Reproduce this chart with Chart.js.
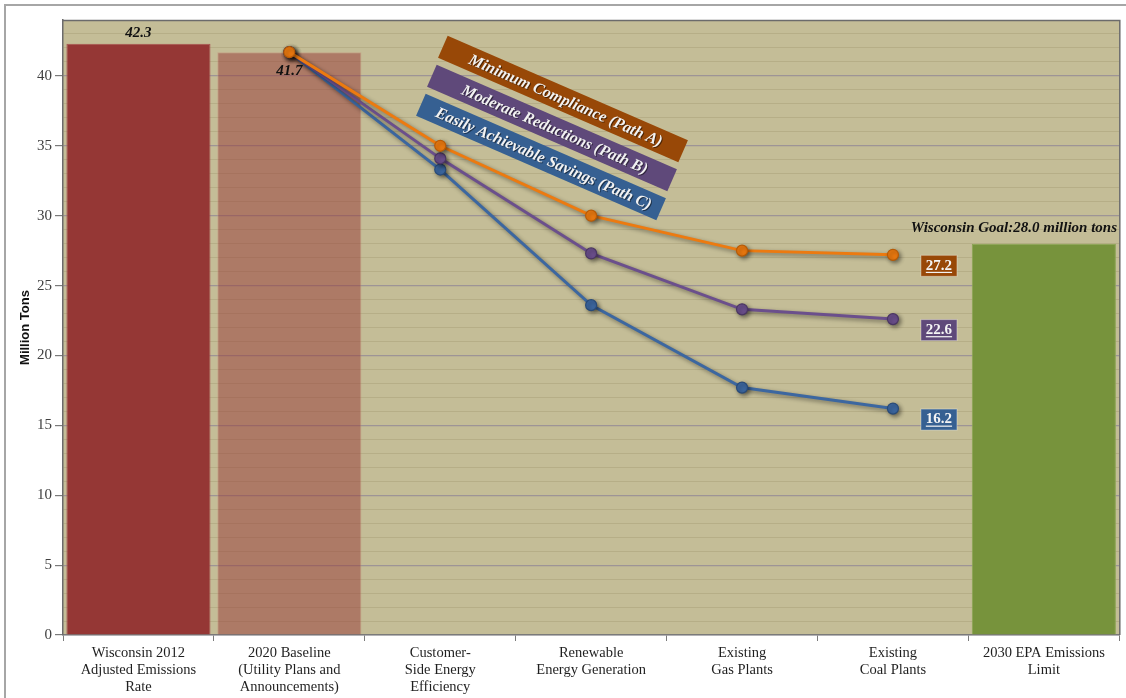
<!DOCTYPE html>
<html>
<head>
<meta charset="utf-8">
<title>Wisconsin Emissions Paths</title>
<script src="https://cdn.jsdelivr.net/npm/chart.js@4/dist/chart.umd.min.js"></script>
<style>
  body { margin: 0; background: #fff; }
  #wrap { position: relative; width: 1126px; height: 698px; }
</style>
</head>
<body>
<div id="wrap"><canvas id="chart"></canvas></div>
<script>
// categories along the x axis
const categories = [
    ['Wisconsin 2012', 'Adjusted Emissions', 'Rate'],
    ['2020 Baseline', '(Utility Plans and', 'Announcements)'],
    ['Customer-', 'Side Energy', 'Efficiency'],
    ['Renewable', 'Energy Generation'],
    ['Existing', 'Gas Plants'],
    ['Existing', 'Coal Plants'],
    ['2030 EPA Emissions', 'Limit']
];

// million tons
const barValues = [42.3, 41.7, null, null, null, null, 28.0];
const pathA = [null, 41.7, 35.0, 30.0, 27.5, 27.2, null];
const pathB = [null, 41.7, 34.1, 27.3, 23.3, 22.6, null];
const pathC = [null, 41.7, 33.3, 23.6, 17.7, 16.2, null];

const pathNames = ['Minimum Compliance (Path A)', 'Moderate Reductions (Path B)', 'Easily Achievable Savings (Path C)'];
const goalText = 'Wisconsin Goal:28.0 million tons';

const yMax = 44;
const yMajorStep = 5;

const serif = '"Liberation Serif", "DejaVu Serif", serif';

// line colours, banner colours
const lineColors = ['#ec7a10', '#6b4f8c', '#3c67a0'];
const pointBorders = ['#b75a05', '#4a3563', '#284a78'];
const bannerColors = ['#984807', '#5f497a', '#366092'];

const plotBackground = {
    id: 'plotBackground',
    beforeDraw(chart) {
        const { ctx, chartArea: a } = chart;
        ctx.save();
        // outer frame
        ctx.strokeStyle = '#a6a6a6';
        ctx.lineWidth = 2;
        ctx.beginPath();
        ctx.moveTo(5, 698);
        ctx.lineTo(5, 5);
        ctx.lineTo(1126, 5);
        ctx.stroke();
        ctx.fillStyle = '#c4bd97';
        ctx.fillRect(a.left, a.top, a.right - a.left, a.bottom - a.top);
        ctx.restore();
    },
    afterDraw(chart) {
        const { ctx, chartArea: a } = chart;
        ctx.save();
        ctx.strokeStyle = '#6b6b6b';
        ctx.lineWidth = 1.5;
        ctx.beginPath();
        ctx.moveTo(a.left, a.top + 0.5);
        ctx.lineTo(a.right + 0.5, a.top + 0.5);
        ctx.lineTo(a.right + 0.5, a.bottom);
        ctx.stroke();
        ctx.restore();
    }
};

// soft drop shadow under the path lines
const lineShadow = {
    id: 'lineShadow',
    beforeDatasetDraw(chart, args) {
        if (args.meta.type !== 'line') return;
        const ctx = chart.ctx;
        ctx.save();
        ctx.shadowColor = 'rgba(0,0,0,0.45)';
        ctx.shadowBlur = 4;
        ctx.shadowOffsetX = 2;
        ctx.shadowOffsetY = 2;
    },
    afterDatasetDraw(chart, args) {
        if (args.meta.type !== 'line') return;
        chart.ctx.restore();
    }
};

function drawBanner(ctx, cx, cy, color, text) {
    const angle = 23.5 * Math.PI / 180;
    const w = 262, h = 24;
    ctx.save();
    ctx.translate(cx, cy);
    ctx.rotate(angle);
    ctx.fillStyle = color;
    ctx.fillRect(-w / 2, -h / 2, w, h);
    ctx.font = 'italic bold 16px ' + serif;
    ctx.fillStyle = '#f2f2f2';
    ctx.textAlign = 'center';
    ctx.textBaseline = 'middle';
    ctx.shadowColor = 'rgba(0,0,0,0.5)';
    ctx.shadowOffsetX = 1;
    ctx.shadowOffsetY = 1;
    ctx.fillText(text, 3, 1);
    ctx.restore();
}

const annotations = {
    id: 'annotations',
    afterDatasetsDraw(chart) {
        const ctx = chart.ctx;
        const barMeta = chart.getDatasetMeta(3);
        const y = chart.scales.y;
        ctx.save();
        ctx.fillStyle = '#111';
        ctx.font = 'italic bold 15px ' + serif;
        ctx.textAlign = 'center';
        ctx.textBaseline = 'middle';
        ctx.fillText(barValues[0].toFixed(1), barMeta.data[0].x, y.getPixelForValue(barValues[0]) - 11);
        const start = chart.getDatasetMeta(0).data[1];
        ctx.fillText(pathA[1].toFixed(1), start.x, start.y + 19);

        ctx.font = 'italic bold 15px ' + serif;
        ctx.textAlign = 'right';
        ctx.fillText(goalText, 1117, y.getPixelForValue(barValues[6]) - 16);

        // path banners
        drawBanner(ctx, 563, 99, bannerColors[0], pathNames[0]);
        drawBanner(ctx, 552, 128, bannerColors[1], pathNames[1]);
        drawBanner(ctx, 541, 157, bannerColors[2], pathNames[2]);

        // end values of each path
        [pathA, pathB, pathC].forEach((series, i) => {
            const pt = chart.getDatasetMeta(i).data[5];
            const bx = pt.x + 46, by = pt.y + 11;
            ctx.fillStyle = bannerColors[i];
            ctx.fillRect(bx - 18, by - 10.5, 36, 21);
            ctx.strokeStyle = 'rgba(255,255,255,0.35)';
            ctx.lineWidth = 1;
            ctx.strokeRect(bx - 18, by - 10.5, 36, 21);
            ctx.fillStyle = '#f4f4f4';
            ctx.font = 'bold 15px ' + serif;
            ctx.textAlign = 'center';
            ctx.textBaseline = 'middle';
            const label = series[5].toFixed(1);
            ctx.fillText(label, bx, by);
            const tw = ctx.measureText(label).width;
            ctx.fillRect(bx - tw / 2, by + 6, tw, 1.2);
        });
        ctx.restore();
    }
};

function pathDataset(values, i) {
    return {
        type: 'line',
        data: values,
        borderColor: lineColors[i],
        borderWidth: 3,
        pointRadius: 5.5,
        pointHoverRadius: 5.5,
        pointBackgroundColor: lineColors[i],
        pointBorderColor: pointBorders[i],
        pointBorderWidth: 1.2,
        tension: 0
    };
}

new Chart(document.getElementById('chart'), {
    type: 'bar',
    data: {
        labels: categories,
        datasets: [
            pathDataset(pathA, 0),
            pathDataset(pathB, 1),
            pathDataset(pathC, 2),
            {
                data: barValues,
                backgroundColor: ['#953735', 'rgba(149,55,53,0.5)', null, null, null, null, '#77933c'],
                borderColor: ['#a9524f', 'rgba(200,140,120,0.5)', null, null, null, null, '#8aa653'],
                borderWidth: 1,
                categoryPercentage: 1,
                barPercentage: 0.955
            }
        ]
    },
    options: {
        responsive: true,
        maintainAspectRatio: false,
        animation: false,
        layout: { padding: { top: 20, right: 2, left: 18, bottom: 0 } },
        plugins: {
            legend: { display: false },
            tooltip: { enabled: false }
        },
        scales: {
            x: {
                offset: true,
                afterFit(scale) { scale.height = 63; },
                grid: {
                    offset: true,
                    drawOnChartArea: false,
                    tickColor: '#7a7a7a',
                    tickLength: 6
                },
                border: { color: '#7a7a7a', width: 1.5 },
                ticks: {
                    color: '#1f1f1f',
                    font: { family: serif, size: 14.5, lineHeight: 1.17 },
                    maxRotation: 0,
                    autoSkip: false,
                    padding: 4
                }
            },
            y: {
                min: 0,
                max: yMax,
                afterFit(scale) { scale.width = 45; },
                title: {
                    display: true,
                    text: 'Million Tons',
                    color: '#111',
                    font: { family: '"Liberation Sans", Arial, sans-serif', size: 13, weight: 'bold' },
                    padding: { top: 0, bottom: 2 }
                },
                border: { color: '#6b6b6b', width: 1.5 },
                grid: {
                    color: c => c.tick.value % yMajorStep === 0 ? 'rgba(125,115,150,0.55)' : 'rgba(150,140,100,0.3)',
                    lineWidth: c => c.tick.value % yMajorStep === 0 ? 1.2 : 1,
                    tickColor: c => c.tick.value % yMajorStep === 0 ? '#7a7a7a' : 'rgba(0,0,0,0)',
                    tickLength: 8
                },
                ticks: {
                    stepSize: 1,
                    autoSkip: false,
                    color: '#404040',
                    font: { family: serif, size: 15 },
                    padding: 3,
                    callback: v => v % yMajorStep === 0 ? v : ''
                }
            }
        }
    },
    plugins: [plotBackground, lineShadow, annotations]
});
</script>
</body>
</html>
